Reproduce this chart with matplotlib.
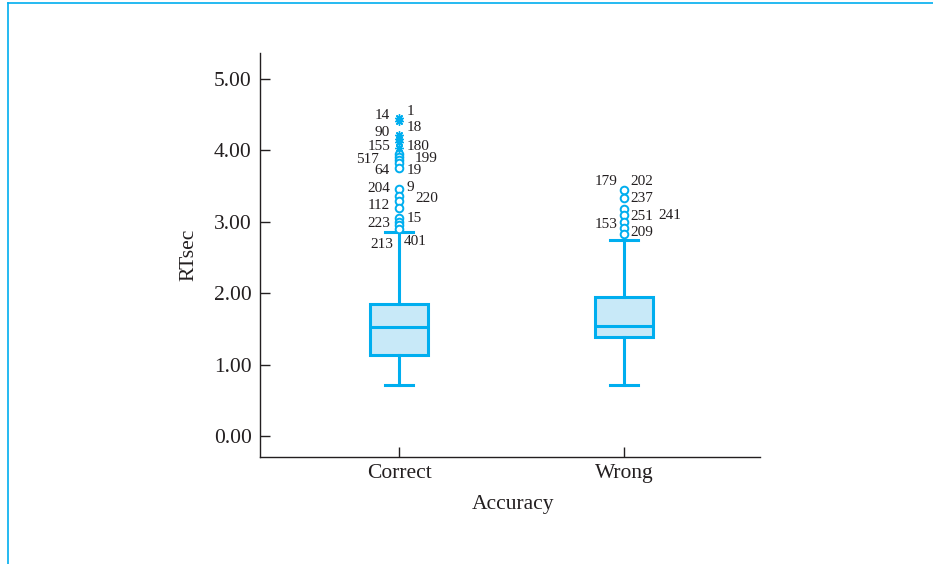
import matplotlib
matplotlib.use("Agg")
import matplotlib.pyplot as plt
from matplotlib.lines import Line2D

# Response time (seconds) by answer accuracy
groups = ["Correct", "Wrong"]
whislo = [0.72, 0.72]
q1 = [1.13, 1.38]
med = [1.52, 1.54]
q3 = [1.85, 1.94]
whishi = [2.86, 2.74]

# Outlying cases (circles) and extreme cases (asterisks)
correct_outliers = [3.95, 3.91, 3.87, 3.82, 3.76, 3.46, 3.36, 3.29, 3.20,
                    3.06, 3.00, 2.95, 2.90]
correct_extremes = [4.45, 4.41, 4.21, 4.16, 4.12, 4.03]
wrong_outliers = [3.45, 3.33, 3.18, 3.09, 3.00, 2.91, 2.83]
wrong_extremes = []

# Case numbers attached to outlying values: (group, value, case id)
case_labels = [
    (0, 4.45, "14"), (0, 4.45, "1"),
    (0, 4.21, "90"), (0, 4.21, "18"),
    (0, 4.03, "155"), (0, 4.03, "180"),
    (0, 3.91, "517"), (0, 3.91, "199"),
    (0, 3.76, "64"), (0, 3.76, "19"),
    (0, 3.46, "204"), (0, 3.46, "9"),
    (0, 3.36, "220"), (0, 3.29, "112"),
    (0, 3.06, "15"), (0, 3.00, "223"),
    (0, 2.90, "213"), (0, 2.90, "401"),
    (1, 3.45, "179"), (1, 3.45, "202"),
    (1, 3.33, "237"), (1, 3.09, "251"), (1, 3.09, "241"),
    (1, 3.00, "153"), (1, 2.83, "209"),
]
# text offsets in points for each case label (dx, dy, horizontal alignment)
label_offsets = [
    (-6.5, 2, "right"), (5.5, 5, "left"),
    (-6.5, 2, "right"), (5.5, 6, "left"),
    (-6.5, 1, "right"), (5.5, 1, "left"),
    (-14.5, -2, "right"), (11.5, -1, "left"),
    (-6.5, -2, "right"), (5.5, -2, "left"),
    (-6.5, 0, "right"), (5.5, 1, "left"),
    (11.5, -2, "left"), (-6.5, -3, "right"),
    (5.5, -1, "left"), (-6.5, -1, "right"),
    (-4, -11, "right"), (3.5, -9, "left"),
    (-4.5, 6, "right"), (4.5, 6, "left"),
    (4.5, 0, "left"), (4.5, -1, "left"), (25, 0, "left"),
    (-4.5, -2, "right"), (4.5, 1, "left"),
]

BLUE = "#00AEEF"
FILL = "#C8E9F8"
INK = "#231F20"

plt.rcParams["font.family"] = ["Liberation Serif", "DejaVu Serif"]

fig = plt.figure(figsize=(9.33, 5.64), dpi=100)
ax = fig.add_axes([0.2787, 0.1897, 0.5359, 0.7163])

stats = []
for i, name in enumerate(groups):
    stats.append(dict(label=name, whislo=whislo[i], q1=q1[i], med=med[i],
                      q3=q3[i], whishi=whishi[i],
                      fliers=[correct_outliers, wrong_outliers][i]))

ax.bxp(stats, positions=[0, 1], widths=0.258, patch_artist=True,
       boxprops=dict(facecolor=FILL, edgecolor=BLUE, linewidth=2.2),
       medianprops=dict(color=BLUE, linewidth=2.2),
       whiskerprops=dict(color=BLUE, linewidth=2.2),
       capprops=dict(color=BLUE, linewidth=2.2),
       capwidths=0.125,
       flierprops=dict(marker="o", markerfacecolor="white",
                       markeredgecolor=BLUE, markersize=5.5,
                       markeredgewidth=1.4, linestyle="none"))

for pos, ext in zip([0, 1], [correct_extremes, wrong_extremes]):
    if ext:
        ax.plot([pos] * len(ext), ext, linestyle="none",
                marker=(8, 2, 0), markersize=6, markeredgewidth=1.0,
                color=BLUE, zorder=4)

for (g, val, cid), (dx, dy, ha) in zip(case_labels, label_offsets):
    ax.annotate(cid, xy=(g, val), xytext=(dx, dy), textcoords="offset points",
                ha=ha, va="center", fontsize=11, color=INK)

ax.set_xlim(-0.618, 1.604)
ax.set_ylim(-0.294, 5.364)
ax.set_yticks([0, 1, 2, 3, 4, 5])
ax.set_yticklabels([f"{v:.2f}" for v in [0, 1, 2, 3, 4, 5]])
ax.set_xticks([0, 1])
ax.set_xticklabels(groups)

for side in ("top", "right"):
    ax.spines[side].set_visible(False)
for side in ("left", "bottom"):
    ax.spines[side].set_color(INK)
    ax.spines[side].set_linewidth(1.0)

ax.tick_params(axis="both", direction="in", length=7, width=1.0,
               color=INK, labelcolor=INK, labelsize=15.5)
ax.tick_params(axis="y", pad=6)
ax.tick_params(axis="x", pad=5)

ax.set_ylabel("RTsec", fontsize=15.5, color=INK)
ax.yaxis.set_label_coords(-0.124, 0.5)
ax.set_xlabel("Accuracy", fontsize=15.5, color=INK)
ax.xaxis.set_label_coords(0.506, -0.094)

# frame rule along the top and left edge of the figure
W, H = 933, 564
fig.add_artist(Line2D([8 / W, 1.0], [1 - 3 / H, 1 - 3 / H],
                      transform=fig.transFigure, color=BLUE, linewidth=1.2))
fig.add_artist(Line2D([8 / W, 8 / W], [0.0, 1 - 3 / H],
                      transform=fig.transFigure, color=BLUE, linewidth=1.2))

fig.savefig("out.png", dpi=100)
